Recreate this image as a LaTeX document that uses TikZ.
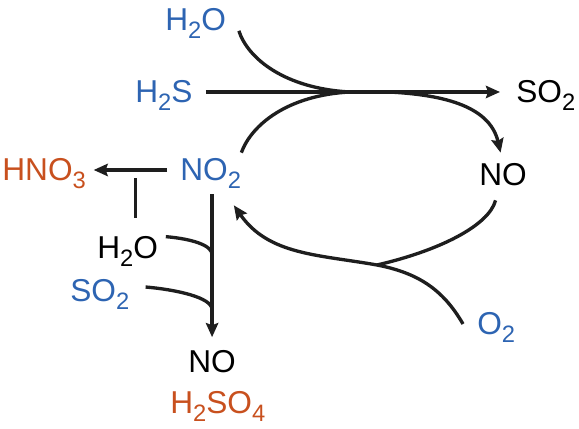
\documentclass[tikz,border=0pt]{standalone}
\usepackage{fontspec}
\setmainfont{Liberation Sans}
\usetikzlibrary{arrows.meta,calc}
\definecolor{chemblue}{RGB}{45,100,178}
\definecolor{chemorange}{RGB}{200,80,30}
\definecolor{chemline}{RGB}{30,30,30}
\newcommand{\chsub}[1]{\raisebox{-4.5pt}{\fontsize{13.5}{14}\selectfont #1}}
\tikzset{
  % species: anchor = left edge, middle of the capitals
  chem/.style={anchor=west, inner sep=0pt, text height=0.44cm, text depth=0pt,
               font=\fontsize{18}{20}\selectfont},
  % reaction lines
  rxn/.style={line width=1.9pt, chemline},
  rxnarr/.style={rxn, -{Stealth[length=8pt,width=7pt,inset=1.2pt]}},
}
\begin{document}
\begin{tikzpicture}
\useasboundingbox (0,0) rectangle (11.58,8.58);

% =================== SPECIES ===================
\node[chem, chemblue] (h2oT) at (3.30,8.19) {H\chsub{2}O};
\node[chem, chemblue] (h2s) at (2.70,6.74) {H\chsub{2}S};
\node[chem] (so2R) at (10.32,6.74) {SO\chsub{2}};
\node[chem] (noR) at (9.58,5.08) {NO};
\node[chem, chemblue] (no2) at (3.60,5.18) {NO\chsub{2}};
\node[chem, chemorange] (hno3) at (0.04,5.18) {HNO\chsub{3}};
\node[chem] (h2oB) at (1.94,3.62) {H\chsub{2}O};
\node[chem, chemblue] (so2B) at (1.40,2.77) {SO\chsub{2}};
\node[chem] (noB) at (3.76,1.35) {NO};
\node[chem, chemorange] (h2so4) at (3.40,0.52) {H\chsub{2}SO\chsub{4}};
\node[chem, chemblue] (o2) at (9.54,2.10) {O\chsub{2}};

% junctions
\coordinate (j1) at (7.00,6.74);
\coordinate (j2) at (7.78,6.74);
\coordinate (j3) at (7.54,3.28);
\coordinate (jh) at ($(noB.north)+(0,1.91)$);
\coordinate (js) at ($(noB.north)+(0,0.81)$);

% =================== CYCLE ===================
\draw[rxnarr, shorten <=.26cm, shorten >=.32cm] (h2s.east) -- (so2R.west);
\draw[rxn] ([xshift=.25cm]h2oT.south east) to[out=-72,in=177,out looseness=.6,in looseness=1.3] (j1);
\draw[rxn] ([yshift=.12cm]no2.north east) to[out=70,in=183,out looseness=.6,in looseness=1.3] (j1);
\draw[rxnarr] (j2) to[out=-3,in=103] ([xshift=-.05cm,yshift=.22cm]noR.north);
\draw[rxn] ([xshift=-.15cm,yshift=-.28cm]noR.south) to[out=-105,in=13,out looseness=.5,in looseness=1.2] (j3);
\draw[rxnarr] ([xshift=-.28cm]o2.west) to[out=120,in=-11] (j3) to[out=170,in=-55] ([xshift=-.15cm,yshift=-.48cm]no2.south east);

% =================== SINKS ===================
\draw[rxnarr, shorten <=.26cm, shorten >=.15cm] (no2.west) -- (hno3.east);
\draw[rxn] ([xshift=.15cm,yshift=.38cm]h2oB.north) -- ++(0,.8);
\draw[rxnarr, shorten <=.26cm, shorten >=.26cm] (no2.south -| noB.north) -- (noB.north);
\draw[rxn] ([xshift=.15cm]h2oB.north east) to[out=-5,in=90,out looseness=1.3,in looseness=.5] (jh);
\draw[rxn] ([xshift=.32cm,yshift=.07cm]so2B.east) to[out=-5,in=90,out looseness=1.1,in looseness=.45] (js);

\end{tikzpicture}
\end{document}
